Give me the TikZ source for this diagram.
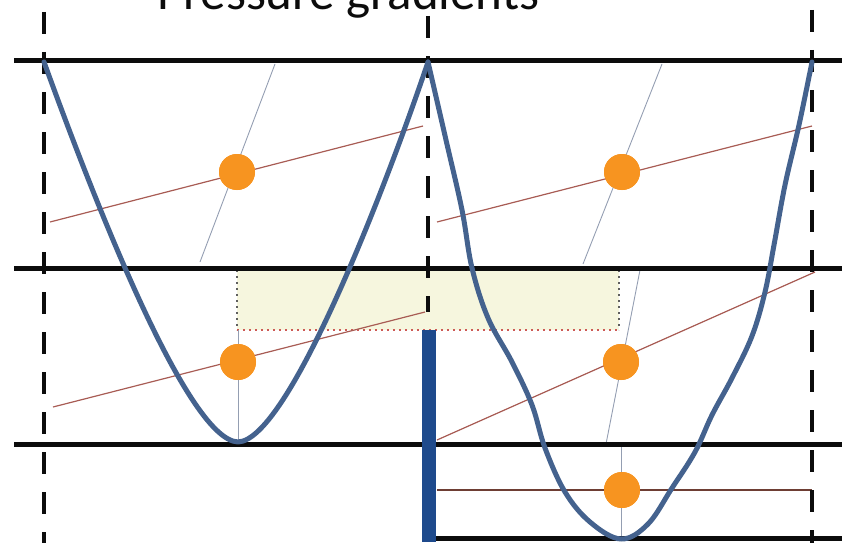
\documentclass[tikz,border=0pt]{standalone}
\usepackage{fontspec}
\setmainfont{Carlito}
\usepackage{xcolor}
\definecolor{wallblack}{RGB}{12,12,12}
\definecolor{waveblue}{RGB}{68,98,142}
\definecolor{barblue}{RGB}{30,74,140}
\definecolor{dotorange}{RGB}{247,148,32}
\definecolor{isored}{RGB}{168,92,84}
\definecolor{isobrown}{RGB}{110,62,52}
\definecolor{normgrey}{RGB}{148,158,178}
\definecolor{boxyellow}{RGB}{246,246,222}
\definecolor{edgegrey}{RGB}{95,95,95}
\definecolor{edgered}{RGB}{205,90,85}

\begin{document}
\begin{tikzpicture}[x=1pt,y=-1pt,
  wall/.style={line width=5pt,wallblack},
  cellwall/.style={line width=4pt,wallblack,dash pattern=on 22pt off 18pt},
  particle/.style={circle,fill=dotorange,minimum size=36pt,inner sep=0pt},
  isobar/.style={isored,line width=1.2pt},
  normline/.style={normgrey,line width=0.9pt},
  wave/.style={waveblue,line width=5pt,line join=round,line cap=round}]
  \useasboundingbox (0,0) rectangle (842,543);
  % Title (cut at the top)
  \node[anchor=base west,inner sep=0pt,font=\fontsize{51}{60}\selectfont,wallblack]
    (title) at (157,10) {Pressure gradients};
  % Shaded strip
  \fill[boxyellow] (237,270) rectangle (619,330);
  \draw[edgegrey,line width=2pt,dash pattern=on 2pt off 4pt] (237,270)--(237,330);
  \draw[edgegrey,line width=2pt,dash pattern=on 2pt off 4pt] (619,270)--(619,330);
  \draw[edgered,line width=2pt,dash pattern=on 2pt off 4pt] (237,330)--(619,330);
  % Particles
  \node[particle] (pa) at (237,172) {};
  \node[particle] (pb) at (622,172) {};
  \node[particle] (pc) at (238,362) {};
  \node[particle] (pd) at (621,362) {};
  \node[particle] (pe) at (622,490) {};
  % Normal lines
  \draw[normline] (275,64)--(200,262);
  \draw[normline] (662,64)--(583,264);
  \draw[normline] (238,330)--(238,440);
  \draw[normline] (640,270)--(606,444);
  \draw[normline] (621,444)--(621,538);
  % Isobars
  \draw[isobar] (50,222)--(423,126);
  \draw[isobar] (437,222)--(812,126);
  \draw[isobar] (53,407)--(425,312);
  \draw[isobar] (437,440)--(815,272);
  \draw[isobrown,line width=1.4pt] (437,490)--(812,490);
  % Walls
  \draw[wall] (14,60)--(842,60);
  \draw[wall] (14,268)--(842,268);
  \draw[wall] (14,444)--(842,444);
  \draw[wall] (430,538)--(842,538);
  \draw[cellwall] (44,12)--(44,543);
  \draw[cellwall] (428,16)--(428,312);
  \draw[cellwall] (812,10)--(812,543);
  % Wave profile
  \draw[wave] (44,62) .. controls (85,175) and (185,440) .. (238,442)
    .. controls (290,440) and (390,175) .. (428,62);
  \draw[wave] plot[smooth,tension=0.6] coordinates {(428,62) (446,140) (462,210)
    (472,268) (488,318) (512,362) (532,405) (545,448) (565,492) (590,522)
    (621,539) (648,524) (672,488) (695,452) (712,415) (732,378) (752,336)
    (765,292) (774,245) (785,185) (799,125) (812,62)};
  % Pressure bar
  \fill[barblue] (422,330) rectangle (436,542);
  % Particles on top
  \foreach \p in {pa,pb,pc,pd,pe}{
    \fill[dotorange] (\p) circle (18pt);
  }
\end{tikzpicture}
\end{document}
